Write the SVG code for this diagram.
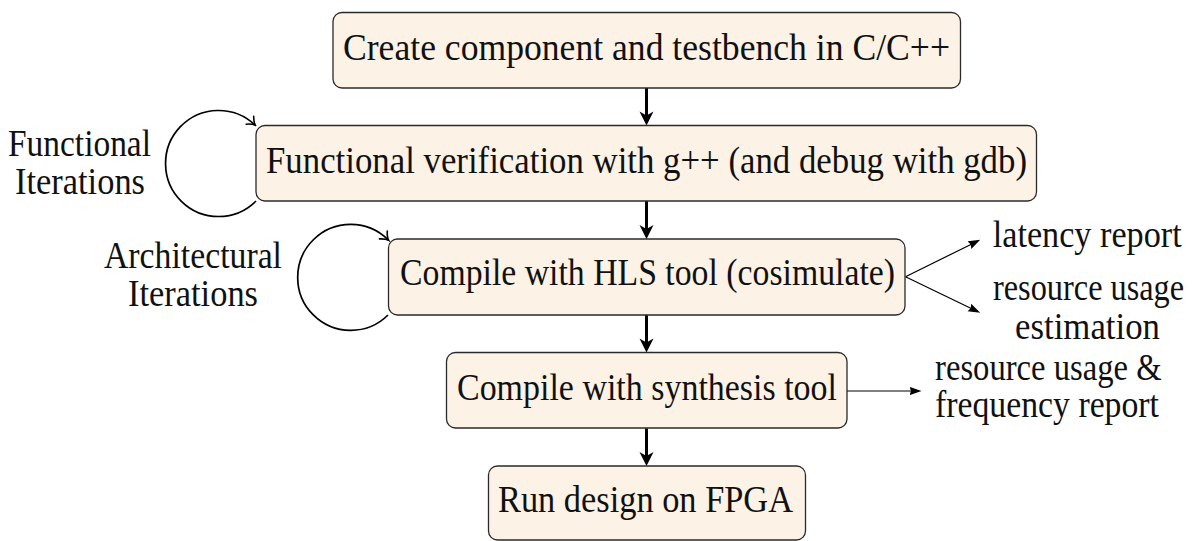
<svg xmlns="http://www.w3.org/2000/svg" width="1199" height="541" viewBox="0 0 1199 541">
<style>
.box{fill:#fdf2e6;stroke:#2a2a2a;stroke-width:1.3}
.t{font-family:"Liberation Serif","Times New Roman",serif;font-size:37px;fill:#111}
.c{text-anchor:middle}
.flow{stroke:#000;stroke-width:3;fill:none;marker-end:url(#big)}
.out{stroke:#000;stroke-width:1.2;fill:none;marker-end:url(#tri)}
.loop{stroke:#000;stroke-width:1.7;fill:none;marker-end:url(#open)}
</style>
<defs>
<marker id="big" markerUnits="userSpaceOnUse" viewBox="0 0 16 16" markerWidth="16" markerHeight="16" refX="11" refY="8" orient="auto">
<path d="M15,8 L1,1 L5,8 L1,15 Z" fill="#000"/>
</marker>
<marker id="tri" markerUnits="userSpaceOnUse" viewBox="0 0 12 10" markerWidth="12" markerHeight="10" refX="9" refY="5" orient="auto">
<path d="M12,5 L0,0.8 L1.5,5 L0,9.2 Z" fill="#000"/>
</marker>
<marker id="open" markerUnits="userSpaceOnUse" viewBox="0 0 12 14" markerWidth="12" markerHeight="14" refX="10" refY="7" orient="auto">
<path d="M3,1.5 Q7,6 10.5,7 Q7,8 3,12.5" fill="none" stroke="#000" stroke-width="1.6" stroke-linecap="round"/>
</marker>
</defs>
<g id="connectors">
<line class="flow" x1="646.5" y1="88" x2="646.5" y2="121.5"/>
<line class="flow" x1="646.5" y1="201" x2="646.5" y2="235"/>
<line class="flow" x1="646.5" y1="315" x2="646.5" y2="348.5"/>
<line class="flow" x1="646.5" y1="428.3" x2="646.5" y2="462"/>
<path class="loop" d="M256,201 A53,53 0 1 1 255,125"/>
<path class="loop" d="M388,315 A53,53 0 1 1 388.3,240"/>
<line class="out" x1="905.5" y1="276.7" x2="977.5" y2="241.2"/>
<line class="out" x1="905.5" y1="276.7" x2="977.5" y2="311.5"/>
<line class="out" x1="847" y1="391" x2="918.5" y2="391"/>
</g>
<g id="n1">
<rect class="box" x="333" y="12.5" width="627.5" height="75.5" rx="9"/>
<text class="t c" x="646.5" y="60" textLength="607" lengthAdjust="spacingAndGlyphs">Create component and testbench in C/C++</text>
</g>
<g id="n2">
<rect class="box" x="256" y="125.5" width="780.5" height="75.5" rx="9"/>
<text class="t c" x="646.5" y="172.5" textLength="761" lengthAdjust="spacingAndGlyphs">Functional verification with g++ (and debug with gdb)</text>
</g>
<g id="n3">
<rect class="box" x="388.5" y="239" width="516.5" height="76" rx="9"/>
<text class="t c" x="647.5" y="284.5" textLength="495" lengthAdjust="spacingAndGlyphs">Compile with HLS tool (cosimulate)</text>
</g>
<g id="n4">
<rect class="box" x="446.5" y="352.5" width="400.5" height="75.5" rx="9"/>
<text class="t c" x="647" y="400" textLength="380" lengthAdjust="spacingAndGlyphs">Compile with synthesis tool</text>
</g>
<g id="n5">
<rect class="box" x="488.5" y="466" width="317" height="74" rx="9"/>
<text class="t c" x="645.5" y="512" textLength="295" lengthAdjust="spacingAndGlyphs">Run design on FPGA</text>
</g>
<g id="l-functional">
<text class="t c" x="79.5" y="156" textLength="143" lengthAdjust="spacingAndGlyphs">Functional</text>
<text class="t c" x="80" y="194" textLength="130" lengthAdjust="spacingAndGlyphs">Iterations</text>
</g>
<g id="l-architectural">
<text class="t c" x="193" y="268" textLength="178" lengthAdjust="spacingAndGlyphs">Architectural</text>
<text class="t c" x="193" y="306" textLength="130" lengthAdjust="spacingAndGlyphs">Iterations</text>
</g>
<g id="o-latency">
<text class="t c" x="1087.2" y="246.5" textLength="189" lengthAdjust="spacingAndGlyphs">latency report</text>
</g>
<g id="o-resource">
<text class="t" y="300"><tspan x="993" textLength="109.5" lengthAdjust="spacingAndGlyphs">resource</tspan> <tspan x="1110.5" textLength="73.5" lengthAdjust="spacingAndGlyphs">usage</tspan></text>
<text class="t c" x="1087.5" y="338.5" textLength="145" lengthAdjust="spacingAndGlyphs">estimation</text>
</g>
<g id="o-frequency">
<text class="t c" x="1048.3" y="379.5" textLength="226.5" lengthAdjust="spacingAndGlyphs">resource usage &amp;</text>
<text class="t c" x="1047" y="417" textLength="224" lengthAdjust="spacingAndGlyphs">frequency report</text>
</g>
</svg>
